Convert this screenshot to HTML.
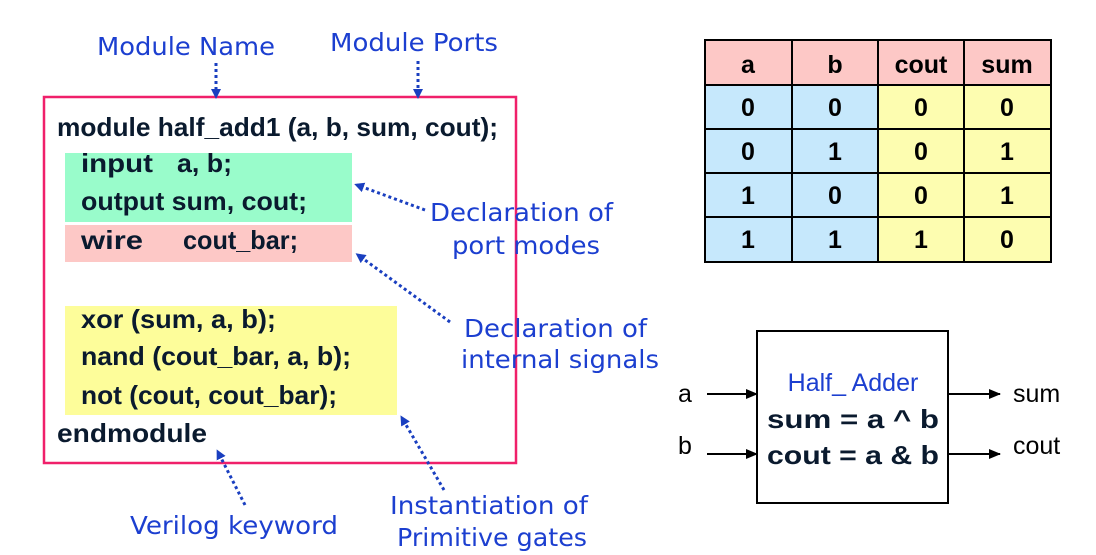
<!DOCTYPE html>
<html><head><meta charset="utf-8"><style>
body{margin:0;background:#fff;width:1096px;height:555px;overflow:hidden}
svg{display:block}
.c{font-family:"Liberation Sans",sans-serif;font-weight:bold;font-size:26px;fill:#0a1a2e}
.b{font-family:"DejaVu Sans",sans-serif;font-size:25px;fill:#1c3fd0}
.t{font-family:"Liberation Sans",sans-serif;font-weight:bold;font-size:25px;fill:#000}
.d{stroke:#1a3fc0;stroke-width:3;stroke-dasharray:3 3;fill:none}
</style></head><body>
<svg width="1096" height="555" viewBox="0 0 1096 555">
<defs>
<marker id="ab" markerWidth="10" markerHeight="10" refX="7" refY="5" orient="auto" markerUnits="userSpaceOnUse"><path d="M0,0 L10,5 L0,10 z" fill="#1a3fc0"/></marker>
<marker id="ak" markerWidth="12" markerHeight="10" refX="11" refY="5" orient="auto" markerUnits="userSpaceOnUse"><path d="M0,0 L12,5 L0,10 z" fill="#000"/></marker>
</defs>
<rect x="65" y="153" width="287" height="69" fill="#99fccb"/>
<rect x="65" y="225" width="287" height="37" fill="#fdc8c6"/>
<rect x="65" y="306" width="332" height="109" fill="#fdfd9a"/>
<rect x="44" y="97" width="472" height="366" fill="none" stroke="#f0206a" stroke-width="2.5"/>
<text class="c" x="57" y="136" textLength="441" lengthAdjust="spacingAndGlyphs">module half_add1 (a, b, sum, cout);</text>
<text class="c" x="81" y="172" textLength="72" lengthAdjust="spacingAndGlyphs">input</text><text class="c" x="177" y="172" textLength="55" lengthAdjust="spacingAndGlyphs">a, b;</text>
<text class="c" x="81" y="210" textLength="226" lengthAdjust="spacingAndGlyphs">output sum, cout;</text>
<text class="c" x="81" y="249" textLength="62" lengthAdjust="spacingAndGlyphs">wire</text><text class="c" x="183" y="249" textLength="115" lengthAdjust="spacingAndGlyphs">cout_bar;</text>
<text class="c" x="81" y="328" textLength="195" lengthAdjust="spacingAndGlyphs">xor (sum, a, b);</text>
<text class="c" x="81" y="365" textLength="270" lengthAdjust="spacingAndGlyphs">nand (cout_bar, a, b);</text>
<text class="c" x="81" y="404" textLength="256" lengthAdjust="spacingAndGlyphs">not (cout, cout_bar);</text>
<text class="c" x="57" y="442" textLength="150" lengthAdjust="spacingAndGlyphs">endmodule</text>
<text class="b" x="97" y="55" textLength="178" lengthAdjust="spacingAndGlyphs">Module Name</text>
<text class="b" x="330" y="51" textLength="168" lengthAdjust="spacingAndGlyphs">Module Ports</text>
<text class="b" x="430" y="221" textLength="183" lengthAdjust="spacingAndGlyphs">Declaration of</text>
<text class="b" x="452" y="254" textLength="148" lengthAdjust="spacingAndGlyphs">port modes</text>
<text class="b" x="464" y="337" textLength="183" lengthAdjust="spacingAndGlyphs">Declaration of</text>
<text class="b" x="461" y="368" textLength="198" lengthAdjust="spacingAndGlyphs">internal signals</text>
<text class="b" x="390" y="514" textLength="198" lengthAdjust="spacingAndGlyphs">Instantiation of</text>
<text class="b" x="397" y="546" textLength="190" lengthAdjust="spacingAndGlyphs">Primitive gates</text>
<text class="b" x="130" y="534" textLength="208" lengthAdjust="spacingAndGlyphs">Verilog keyword</text>
<line class="d" x1="216" y1="63" x2="216" y2="96" marker-end="url(#ab)"/>
<line class="d" x1="418" y1="61" x2="418" y2="96" marker-end="url(#ab)"/>
<line class="d" x1="425" y1="210" x2="357" y2="185" marker-end="url(#ab)"/>
<line class="d" x1="450" y1="322" x2="358" y2="255" marker-end="url(#ab)"/>
<line class="d" x1="444" y1="490" x2="402" y2="418" marker-end="url(#ab)"/>
<line class="d" x1="245" y1="505" x2="218" y2="452" marker-end="url(#ab)"/>
<rect x="705" y="40" width="346" height="45" fill="#fdc8c6"/>
<rect x="705" y="85" width="173" height="177" fill="#c6e8fc"/>
<rect x="878" y="85" width="173" height="177" fill="#fdfdb0"/>
<g stroke="#000" stroke-width="2" fill="none">
<rect x="705" y="40" width="346" height="222"/>
<line x1="792" y1="40" x2="792" y2="262"/><line x1="878" y1="40" x2="878" y2="262"/><line x1="964" y1="40" x2="964" y2="262"/>
<line x1="705" y1="85" x2="1051" y2="85"/><line x1="705" y1="129" x2="1051" y2="129"/><line x1="705" y1="173" x2="1051" y2="173"/><line x1="705" y1="217" x2="1051" y2="217"/>
</g>
<g class="t" text-anchor="middle">
<text x="748" y="73">a</text><text x="835" y="73">b</text><text x="921" y="73">cout</text><text x="1007" y="73">sum</text>
<text x="748" y="116">0</text><text x="835" y="116">0</text><text x="921" y="116">0</text><text x="1007" y="116">0</text>
<text x="748" y="160">0</text><text x="835" y="160">1</text><text x="921" y="160">0</text><text x="1007" y="160">1</text>
<text x="748" y="204">1</text><text x="835" y="204">0</text><text x="921" y="204">0</text><text x="1007" y="204">1</text>
<text x="748" y="248">1</text><text x="835" y="248">1</text><text x="921" y="248">1</text><text x="1007" y="248">0</text>
</g>
<rect x="757" y="331" width="191" height="172" fill="#fff" stroke="#000" stroke-width="2"/>
<text x="853" y="391" text-anchor="middle" font-family="Liberation Sans,sans-serif" font-size="25" fill="#1c3fd0">Half_ Adder</text>
<text x="767" y="428" class="c" font-size="30" textLength="172" lengthAdjust="spacingAndGlyphs">sum = a ^ b</text>
<text x="767" y="464" class="c" font-size="30" textLength="172" lengthAdjust="spacingAndGlyphs">cout = a &amp; b</text>
<g font-family="Liberation Sans,sans-serif" font-size="25" fill="#000">
<text x="678" y="402">a</text><text x="678" y="454">b</text>
<text x="1013" y="402">sum</text><text x="1013" y="454">cout</text>
</g>
<g stroke="#000" stroke-width="2">
<line x1="707" y1="394" x2="757" y2="394" marker-end="url(#ak)"/>
<line x1="707" y1="454" x2="757" y2="454" marker-end="url(#ak)"/>
<line x1="948" y1="394" x2="1000" y2="394" marker-end="url(#ak)"/>
<line x1="948" y1="454" x2="1000" y2="454" marker-end="url(#ak)"/>
</g>
</svg>
</body></html>
